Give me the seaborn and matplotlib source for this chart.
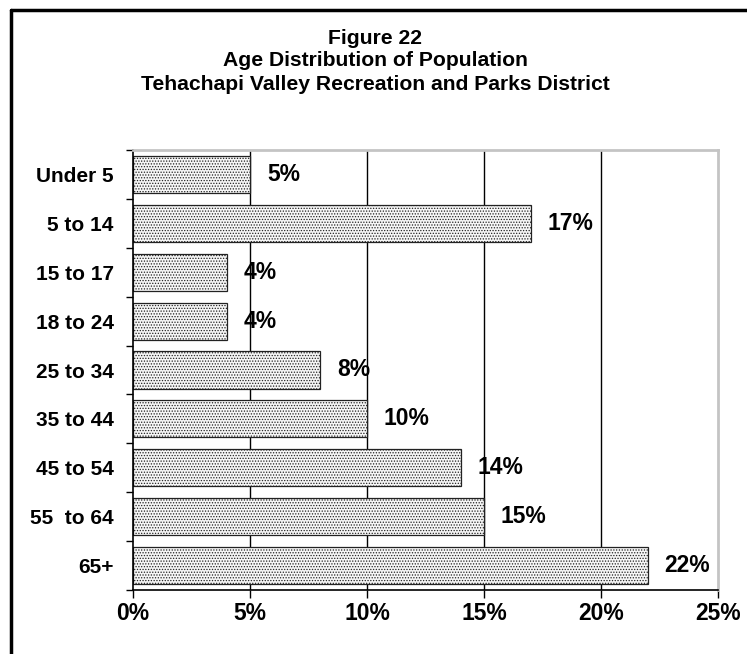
import matplotlib
matplotlib.use("Agg")
import matplotlib.pyplot as plt
import seaborn as sns
import pandas as pd
from matplotlib.ticker import FixedLocator, FuncFormatter

# Age groups and share of population (%)
age_groups = ["Under 5", "5 to 14", "15 to 17", "18 to 24", "25 to 34",
              "35 to 44", "45 to 54", "55  to 64", "65+"]
shares = [5, 17, 4, 4, 8, 10, 14, 15, 22]
x_ticks = [0, 5, 10, 15, 20, 25]
title_lines = ["Figure 22", "Age Distribution of Population",
               "Tehachapi Valley Recreation and Parks District"]

df = pd.DataFrame({"age": age_groups, "share": shares})

sns.set_style("white")
plt.rcParams["font.family"] = ["Liberation Sans", "DejaVu Sans"]
plt.rcParams["text.color"] = "black"
plt.rcParams["xtick.color"] = "black"
plt.rcParams["ytick.color"] = "black"
plt.rcParams["hatch.color"] = "#a8a8a8"
plt.rcParams["hatch.linewidth"] = 0.6

fig = plt.figure(figsize=(7.47, 6.54), dpi=100)
ax = fig.add_axes([133 / 747, 1 - 590 / 654, (718 - 133) / 747, (590 - 150) / 654])

# vertical gridlines behind bars
for v in x_ticks[1:-1]:
    ax.axvline(v, color="black", lw=1.0, zorder=0)

sns.barplot(data=df, x="share", y="age", orient="h", ax=ax,
            color="#f6f6f6", edgecolor="#222222", linewidth=0.9,
            width=0.76, zorder=2)
for p in ax.patches:
    p.set_hatch("......")

# value labels
for i, v in enumerate(shares):
    ax.text(v + 0.72, i, f"{v}%", va="center", ha="left",
            fontsize=16.5, fontweight="bold", color="black", zorder=3)

ax.set_xlim(0, 25)
ax.set_ylim(len(age_groups) - 0.5, -0.5)
ax.xaxis.set_major_locator(FixedLocator(x_ticks))
ax.xaxis.set_major_formatter(FuncFormatter(lambda v, _: f"{v:.0f}%"))
ax.set_xlabel("")
ax.set_ylabel("")

ax.tick_params(axis="x", which="major", bottom=True, direction="out",
               length=6, width=1, color="black", pad=3, labelsize=16.5)
ax.tick_params(axis="y", which="major", left=True, length=0, pad=14,
               labelsize=15)
ax.set_yticks([i + 0.5 for i in range(-1, len(age_groups))], minor=True)
ax.tick_params(axis="y", which="minor", left=True, direction="out",
               length=5, width=1, color="black")
for lab in ax.get_xticklabels() + ax.get_yticklabels():
    lab.set_fontweight("bold")
    lab.set_color("black")

for s in ["top", "right"]:
    ax.spines[s].set_color("#c4c4c4")
    ax.spines[s].set_linewidth(2)
for s in ["left", "bottom"]:
    ax.spines[s].set_color("black")
    ax.spines[s].set_linewidth(1.2)
    ax.spines[s].set_visible(True)

# three-line title
for y_px, line in zip([38, 61, 84], title_lines):
    fig.text(0.502, 1 - y_px / 654, line, ha="center", va="center",
             fontsize=15.2, fontweight="bold", color="black")

# outer frame (left and top edges)
fig.add_artist(plt.Line2D([11 / 747, 11 / 747], [0, 1 - 10 / 654],
                          transform=fig.transFigure, color="black", lw=2.5))
fig.add_artist(plt.Line2D([11 / 747, 1], [1 - 10 / 654, 1 - 10 / 654],
                          transform=fig.transFigure, color="black", lw=2.5))

fig.savefig("out.png", dpi=100)
